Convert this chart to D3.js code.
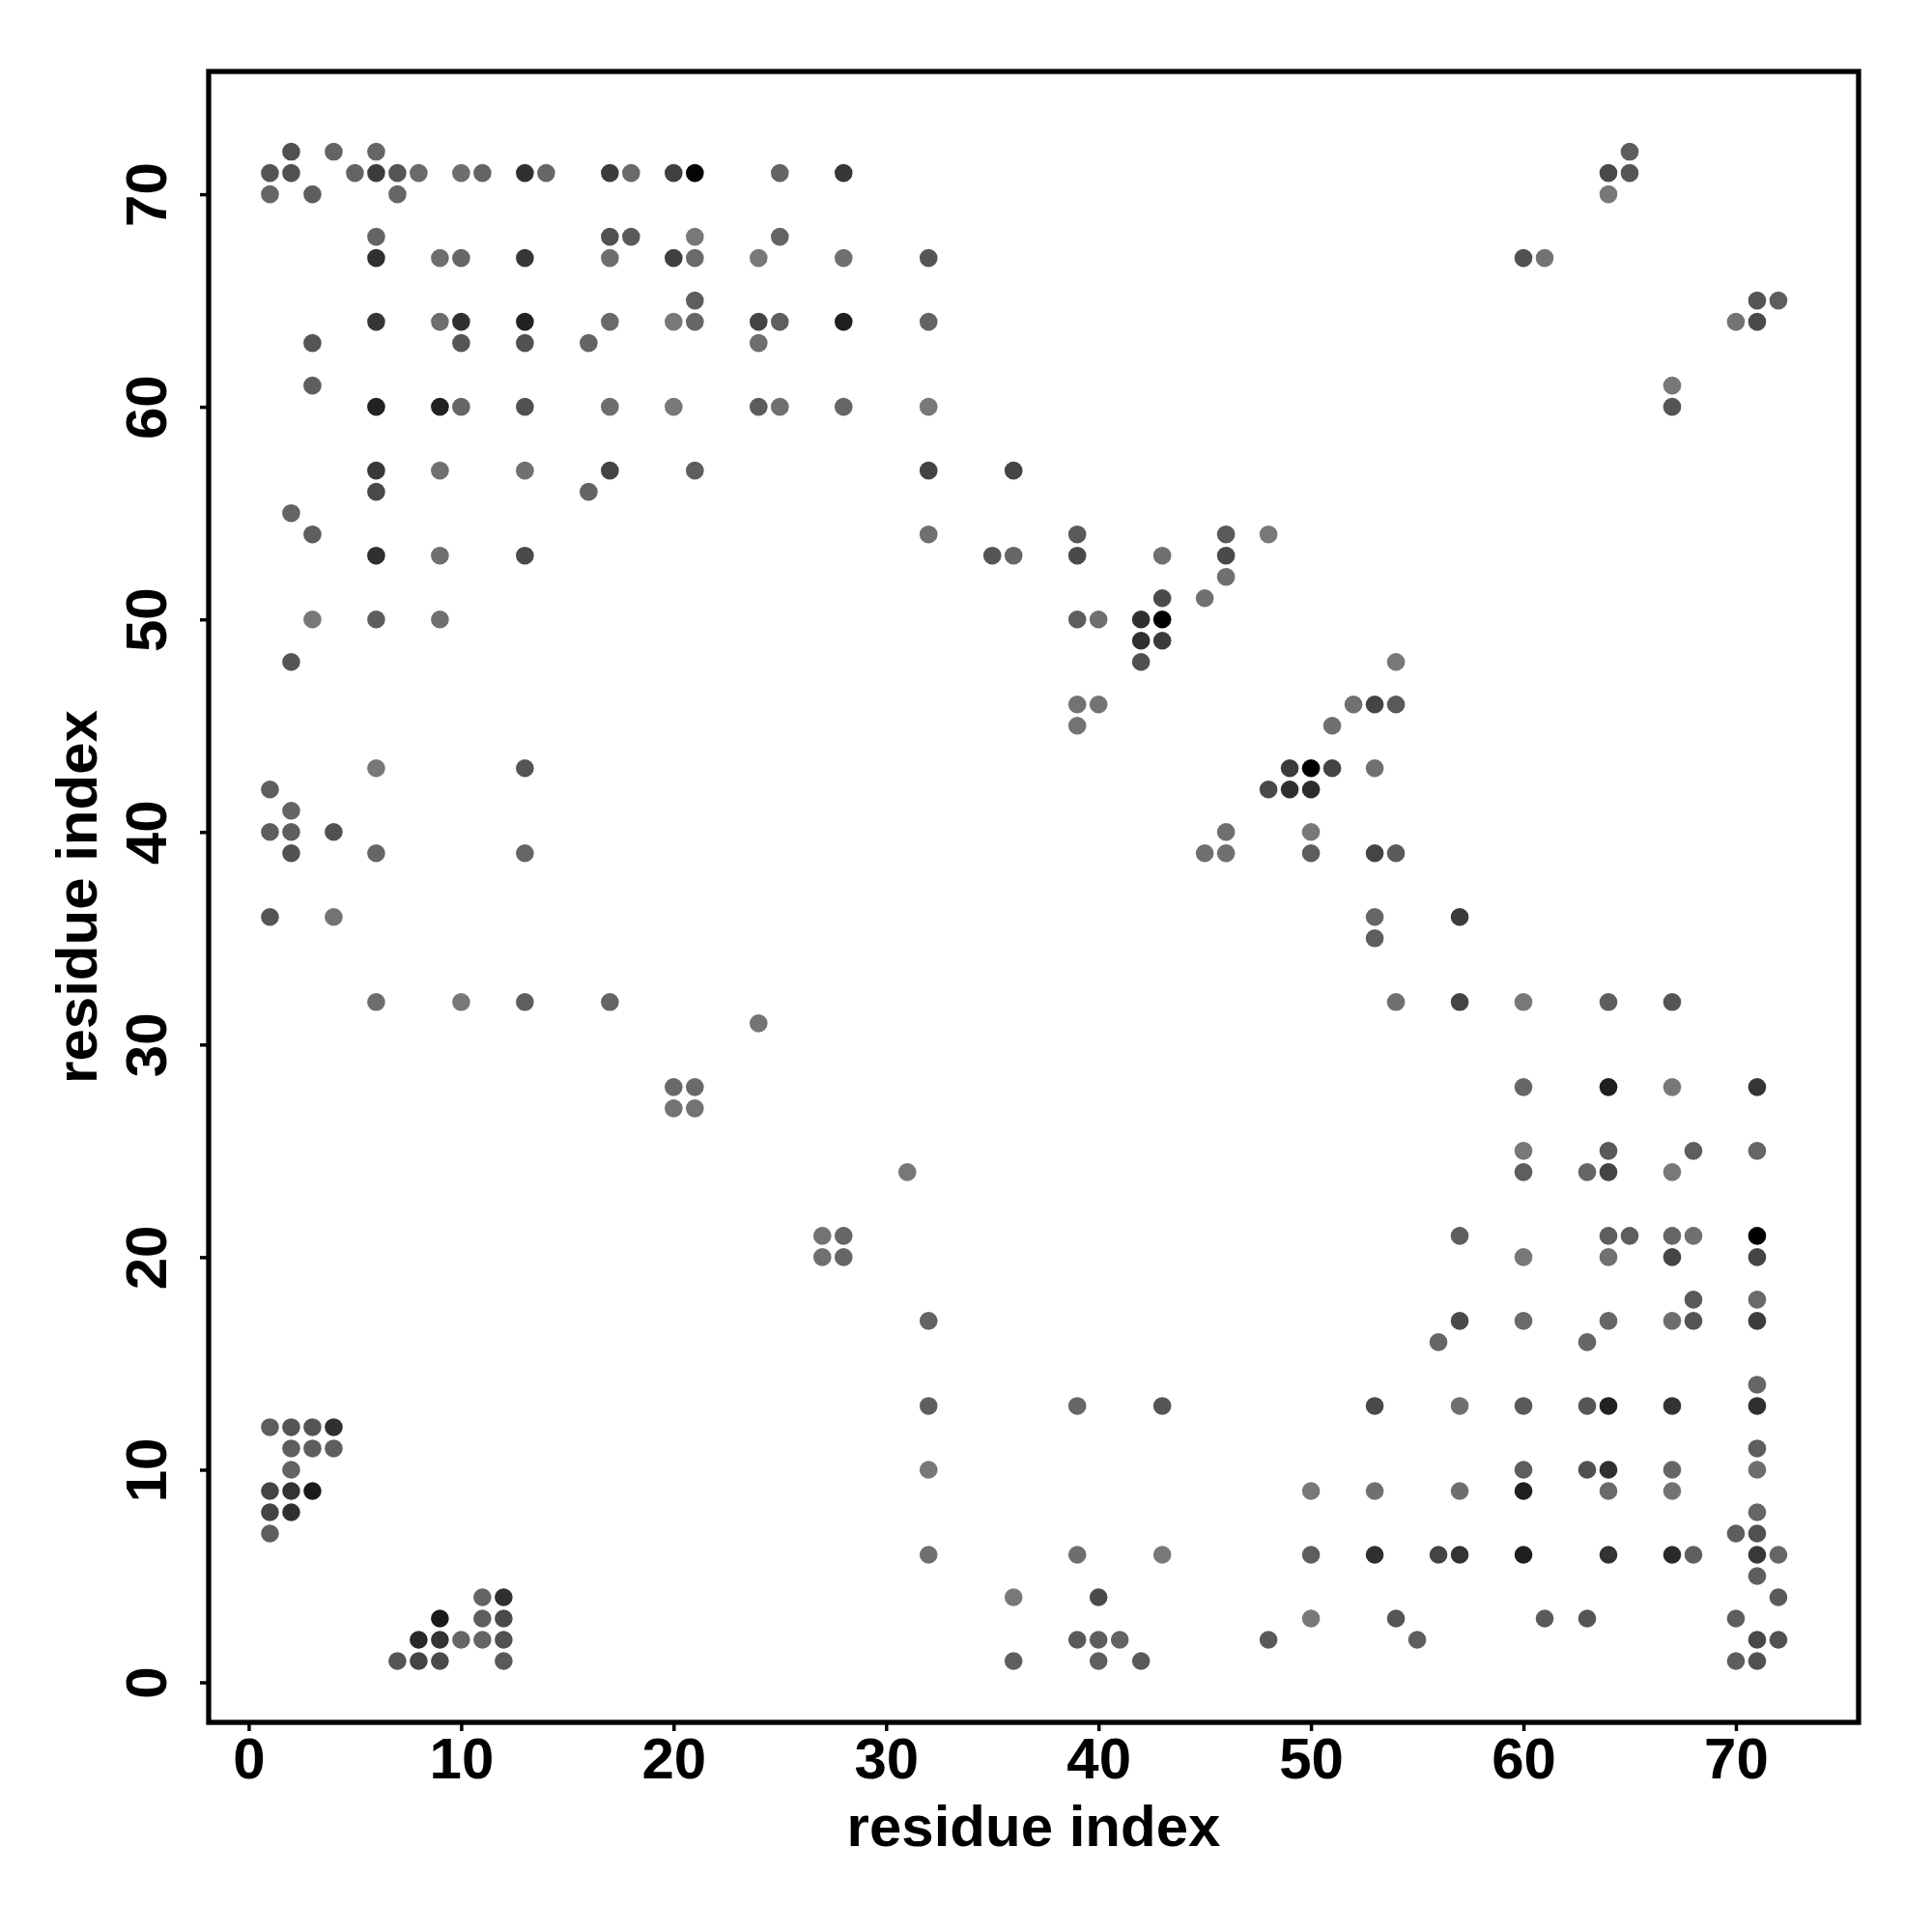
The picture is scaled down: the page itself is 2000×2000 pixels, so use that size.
<!DOCTYPE html>
<html>
<head>
<meta charset="utf-8">
<script src="https://cdn.jsdelivr.net/npm/d3@7"></script>
<style>
  html, body { margin: 0; padding: 0; background: #ffffff; }
  svg { display: block; }
</style>
</head>
<body>
<svg id="chart" width="2000" height="2000"></svg>
<script>
// ---- data: contacts grouped by y residue ----
const rowY = [72,71,70,68,67,65,64,63,61,60,57,56,55,54,53,52,51,50,49,48,46,45,43,42,41,40,39,36,35,32,31,28,27,25,24,21,20,18,17,16,14,13,12,11,10,9,8,7,6,5,4,3,2,1];
const rowX = [
  [2,4,6,65],
  [1,2,5,6,7,8,10,11,13,14,17,18,20,21,25,28,64,65],
  [1,3,7,64],
  [6,17,18,21,25],
  [6,9,10,13,17,20,21,24,28,32,60,61],
  [21,71,72],
  [6,9,10,13,17,20,21,24,25,28,32,70,71],
  [3,10,13,16,24],
  [3,67],
  [6,9,10,13,17,20,24,25,28,32,67],
  [6,9,13,17,21,32,36],
  [6,16],
  [2],
  [3,32,39,46,48],
  [6,9,13,35,36,39,43,46],
  [46],
  [43,45],
  [3,6,9,39,40,42,43],
  [42,43],
  [2,42,54],
  [39,40,52,53,54],
  [39,51],
  [6,13,49,50,51,53],
  [1,48,49,50],
  [2],
  [1,2,4,46,50],
  [2,6,13,45,46,50,53,54],
  [1,4,53,57],
  [53],
  [6,10,13,17,54,57,60,64,67],
  [24],
  [20,21,60,64,67,71],
  [20,21],
  [60,64,68,71],
  [31,60,63,64,67],
  [27,28,57,64,65,67,68,71],
  [27,28,60,64,67,71],
  [68,71],
  [32,57,60,64,67,68,71],
  [56,63],
  [71],
  [32,39,43,53,57,60,63,64,67,71],
  [1,2,3,4],
  [2,3,4,71],
  [2,32,60,63,64,67,71],
  [1,2,3,50,53,57,60,64,67],
  [1,2,71],
  [1,70,71],
  [32,39,43,50,53,56,57,60,64,67,68,71,72],
  [71],
  [11,12,36,40,72],
  [9,11,12,50,54,61,63,70],
  [8,9,10,11,12,39,40,41,48,55,71,72],
  [7,8,9,12,36,40,42,70,71]
];
const rowScore = [
  [.34,.18,.16,.23],
  [.30,.34,.18,.52,.30,.13,.10,.18,.61,.16,.51,.13,.48,.96,.18,.56,.39,.30],
  [.16,.23,.16,.02],
  [.18,.34,.26,.02,.18],
  [.61,.10,.16,.56,.10,.48,.13,.02,.08,.30,.34,.06],
  [.23,.30,.23],
  [.56,.10,.61,.72,.13,.02,.16,.44,.23,.75,.18,.06,.39],
  [.30,.30,.34,.18,.10],
  [.23,.02],
  [.72,.72,.16,.34,.10,.02,.25,.08,.16,.02,.30],
  [.54,.08,.08,.44,.23,.44,.44],
  [.39,.18],
  [.18],
  [.23,.08,.26,.26,.02],
  [.61,.08,.39,.30,.16,.39,.08,.39],
  [.08],
  [.39,.08],
  [.02,.23,.08,.23,.08,.61,1.0],
  [.61,.52],
  [.30,.34,.02],
  [.06,.06,.08,.44,.26],
  [.06,.08],
  [.02,.30,.52,1.0,.44,.08],
  [.23,.39,.61,.64],
  [.18],
  [.23,.23,.34,.08,.02],
  [.34,.16,.16,.08,.08,.23,.44,.26],
  [.30,.06,.16,.51],
  [.23],
  [.10,.02,.23,.18,.08,.44,.02,.23,.30],
  [.04],
  [.13,.13,.16,.75,.02,.56],
  [.06,.06],
  [.02,.26,.23,.16],
  [.02,.23,.16,.44,.02],
  [.06,.16,.23,.23,.23,.16,.08,1.0],
  [.08,.16,.02,.08,.44,.44],
  [.26,.13],
  [.18,.39,.13,.16,.10,.30,.51],
  [.16,.16],
  [.16],
  [.23,.16,.30,.39,.08,.26,.30,.72,.58,.61],
  [.23,.30,.30,.61],
  [.23,.23,.23,.23],
  [.18,.02,.23,.34,.61,.16,.10],
  [.44,.58,.79,.02,.08,.10,.75,.13,.06],
  [.44,.61,.16],
  [.23,.23,.34],
  [.08,.10,.02,.23,.61,.44,.58,.75,.58,.66,.23,.54,.16],
  [.23],
  [.18,.61,.02,.39,.26],
  [.79,.23,.39,.02,.30,.26,.30,.23],
  [.66,.58,.16,.18,.34,.26,.23,.18,.26,.23,.41,.34],
  [.30,.44,.39,.26,.23,.23,.26,.23,.34]
];
const tickValues = [0,10,20,30,40,50,60,70];
const axisTitle = "residue index";

(function () {
  // ---- build point table ----
  const points = [];
  rowY.forEach((yv, r) => {
    rowX[r].forEach((xv, k) => points.push({x: xv, y: yv, s: rowScore[r][k]}));
  });

  // ---- layout ----
  const pLeft = 216, pRight = 1924, pTop = 74, pBottom = 1783;
  const domain = [-1.885, 75.775];
  const x = d3.scaleLinear().domain(domain).range([pLeft, pRight]);
  const y = d3.scaleLinear().domain(domain).range([pBottom, pTop]);
  const shade = d3.scaleLinear().domain([0, 1]).range(["#7a7a7a", "#000000"]);

  const svg = d3.select("#chart");
  const font = "'Liberation Sans', Arial, Helvetica, sans-serif";

  svg.append("rect").attr("width", 2000).attr("height", 2000).attr("fill", "#fff");

  // points
  svg.append("g")
    .selectAll("circle")
    .data(points)
    .join("circle")
    .attr("cx", d => x(d.x))
    .attr("cy", d => y(d.y))
    .attr("r", 9.3)
    .attr("fill", d => shade(d.s));

  // axes
  const xAxis = svg.append("g")
    .attr("transform", `translate(0,${pBottom})`)
    .call(d3.axisBottom(x).tickValues(tickValues).tickSize(9).tickSizeOuter(0));
  xAxis.select(".domain").remove();
  xAxis.selectAll(".tick line").attr("stroke", "#000").attr("stroke-width", 3.5);
  xAxis.selectAll(".tick text")
    .attr("y", 58).attr("dy", null)
    .attr("font-family", font).attr("font-weight", "bold").attr("font-size", 60)
    .attr("fill", "#000");

  const yAxis = svg.append("g")
    .attr("transform", `translate(${pLeft},0)`)
    .call(d3.axisLeft(y).tickValues(tickValues).tickSize(9).tickSizeOuter(0));
  yAxis.select(".domain").remove();
  yAxis.selectAll(".tick line").attr("stroke", "#000").attr("stroke-width", 3.5);
  yAxis.selectAll(".tick text")
    .attr("x", 0).attr("dy", null)
    .attr("transform", "translate(-44,0) rotate(-90)")
    .attr("text-anchor", "middle")
    .attr("font-family", font).attr("font-weight", "bold").attr("font-size", 60)
    .attr("fill", "#000");

  // frame
  svg.append("rect")
    .attr("x", pLeft).attr("y", pTop)
    .attr("width", pRight - pLeft).attr("height", pBottom - pTop)
    .attr("fill", "none").attr("stroke", "#000").attr("stroke-width", 5.3);

  // titles
  svg.append("text")
    .attr("x", (pLeft + pRight) / 2).attr("y", 1911)
    .attr("text-anchor", "middle")
    .attr("font-family", font).attr("font-weight", "bold").attr("font-size", 60)
    .text(axisTitle);

  svg.append("text")
    .attr("transform", `translate(100,${(pTop + pBottom) / 2}) rotate(-90)`)
    .attr("text-anchor", "middle")
    .attr("font-family", font).attr("font-weight", "bold").attr("font-size", 60)
    .text(axisTitle);
})();
</script>
</body>
</html>
